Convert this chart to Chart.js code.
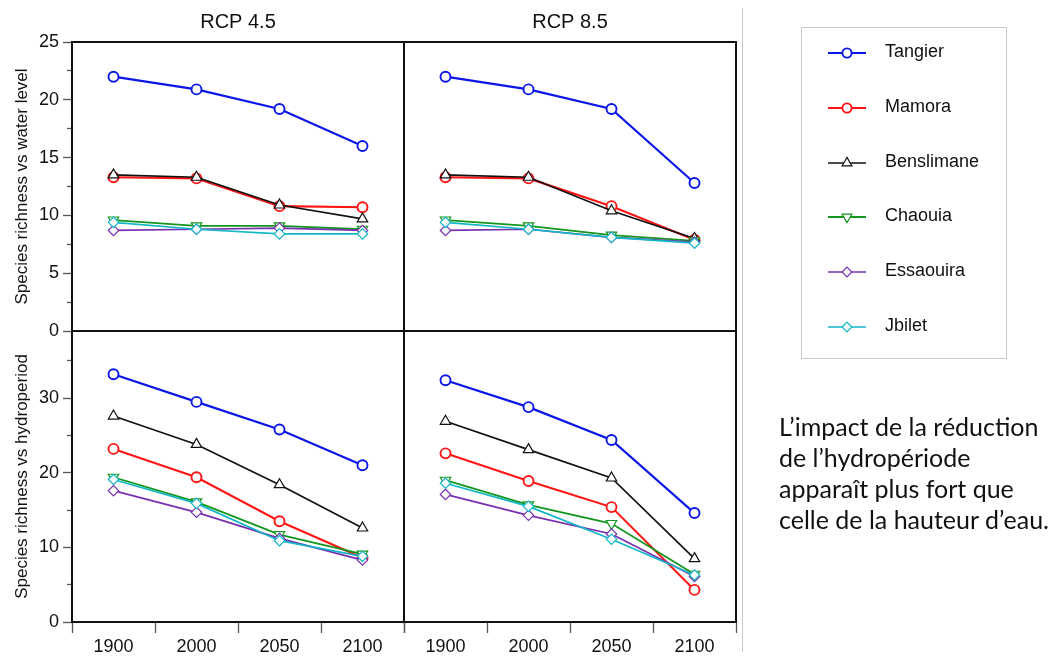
<!DOCTYPE html>
<html>
<head>
<meta charset="utf-8">
<title>Species richness</title>
<script src="https://cdn.jsdelivr.net/npm/chart.js@4.4.1/dist/chart.umd.min.js"></script>
<style>
  body { margin: 0; background: #fff; }
  #wrap { position: relative; width: 1057px; height: 657px; overflow: hidden; background: #fff; }
  #wrap canvas.panel { position: absolute; left: 0; top: 0; }
  #divider { position: absolute; left: 742px; top: 8px; width: 1px; height: 644px; background: #c8c8c8; }
  #legend { position: absolute; left: 801px; top: 27px; width: 206px; height: 332px;
            border: 1px solid #c8c8c8; box-sizing: border-box; }
  .legend-row { position: absolute; left: 0; height: 24px; width: 200px; }
  .legend-row canvas { position: absolute; left: 24px; top: 0; }
  .legend-row span { position: absolute; left: 83px; top: 0; line-height: 24px;
                     font: 18px "Liberation Sans", Arial, sans-serif; color: #111; white-space: nowrap; }
  #note { position: absolute; left: 779px; top: 411px; font: 25px Lato, "Open Sans", sans-serif;
          line-height: 31px; color: #111; white-space: nowrap; }
</style>
</head>
<body>
<div id="wrap">
  <canvas class="panel" id="tl" width="1057" height="657"></canvas>
  <canvas class="panel" id="tr" width="1057" height="657"></canvas>
  <canvas class="panel" id="bl" width="1057" height="657"></canvas>
  <canvas class="panel" id="br" width="1057" height="657"></canvas>
  <div id="divider"></div>
  <div id="legend"></div>
  <div id="note">L’impact de la réduction<br>de l’hydropériode<br>apparaît plus fort que<br>celle de la hauteur d’eau.</div>
</div>
<script>
// --- data ---
const years = ['1900', '2000', '2050', '2100'];
const sites = ['Tangier', 'Mamora', 'Benslimane', 'Chaouia', 'Essaouira', 'Jbilet'];

// species richness vs water level (rows follow `sites`)
const waterRcp45 = [
  [22.0, 20.9, 19.2, 16.0],
  [13.3, 13.2, 10.8, 10.7],
  [13.5, 13.3, 10.9, 9.7],
  [9.6, 9.1, 9.1, 8.8],
  [8.7, 8.8, 8.9, 8.7],
  [9.4, 8.8, 8.4, 8.4]
];
const waterRcp85 = [
  [22.0, 20.9, 19.2, 12.8],
  [13.3, 13.2, 10.8, 7.9],
  [13.5, 13.3, 10.4, 8.0],
  [9.6, 9.1, 8.3, 7.8],
  [8.7, 8.8, 8.1, 7.7],
  [9.4, 8.8, 8.1, 7.6]
];

// species richness vs hydroperiod
const hydroRcp45 = [
  [33.2, 29.5, 25.8, 21.0],
  [23.2, 19.4, 13.5, 8.6],
  [27.6, 23.8, 18.4, 12.6],
  [19.4, 16.1, 11.7, 9.1],
  [17.6, 14.7, 11.2, 8.3],
  [19.1, 15.9, 10.9, 8.8]
];
const hydroRcp85 = [
  [32.4, 28.8, 24.4, 14.6],
  [22.6, 18.9, 15.4, 4.3],
  [26.9, 23.1, 19.3, 8.5],
  [19.0, 15.7, 13.2, 6.4],
  [17.1, 14.3, 11.8, 6.1],
  [18.6, 15.5, 11.1, 6.3]
];

const waterTicks = [0, 5, 10, 15, 20, 25];
const hydroTicks = [0, 10, 20, 30];
const waterMax = 25;
const hydroMax = 39;

// --- styling ---
const siteColors = ['#0b16e8', '#ff1414', '#111111', '#13961d', '#7630b0', '#12b6c6'];
const siteMarkers = ['circle', 'circle', 'triangle', 'triangle', 'rectRot', 'rectRot'];
const markerRotations = [0, 0, 0, 180, 0, 0];
const markerSizes = [5, 5, 6, 6, 5.2, 5.2];
const markerBorders = [1.9, 1.9, 1.2, 1.2, 1.2, 1.2];
const lineWidths = [2.2, 2.1, 1.7, 1.8, 1.7, 1.7];

Chart.defaults.font.family = "'Liberation Sans', Arial, sans-serif";
Chart.defaults.color = '#111';

// Frame around each panel
const framePlugin = {
  id: 'frame',
  afterDraw(chart) {
    const { ctx, chartArea: a } = chart;
    ctx.save();
    ctx.strokeStyle = '#111';
    ctx.lineWidth = 2;
    ctx.strokeRect(a.left, a.top, a.right - a.left, a.bottom - a.top);
    ctx.restore();
  }
};

// majors plus a minor tick half-way to the next major
function tickValues(majors, max) {
  const step = majors[1] - majors[0];
  const out = [];
  majors.forEach(m => {
    out.push(m);
    if (m + step / 2 <= max) out.push(m + step / 2);
  });
  return out;
}

function makeDatasets(rows) {
  return rows.map((vals, i) => ({
    label: sites[i],
    data: vals,
    borderColor: siteColors[i],
    backgroundColor: '#fff',
    borderWidth: lineWidths[i],
    pointStyle: siteMarkers[i],
    pointRotation: markerRotations[i],
    pointRadius: markerSizes[i],
    pointBorderWidth: markerBorders[i],
    pointBorderColor: siteColors[i],
    pointBackgroundColor: '#fff',
    tension: 0,
    order: sites.length - i
  }));
}

function makePanel(id, cfg) {
  const majors = cfg.yTicks;
  const ticks = tickValues(majors, cfg.yMax);
  const isMajor = c => !c.tick || majors.includes(c.tick.value);

  return new Chart(document.getElementById(id), {
    type: 'line',
    data: { labels: years, datasets: makeDatasets(cfg.rows) },
    plugins: [framePlugin],
    options: {
      responsive: false,
      animation: false,
      events: [],
      layout: { padding: cfg.pad },
      plugins: {
        legend: { display: false },
        tooltip: { enabled: false },
        title: {
          display: !!cfg.title,
          text: cfg.title,
          fullSize: false,
          font: { size: 20, weight: 'normal', lineHeight: 1.2 },
          padding: { top: 10, bottom: 8 },
          color: '#111'
        }
      },
      scales: {
        x: {
          type: 'category',
          offset: true,
          display: cfg.showX,
          border: { display: false },
          grid: { offset: true, drawOnChartArea: false, tickLength: 11, tickColor: '#555', tickWidth: 1.3 },
          ticks: { padding: 3, font: { size: 18 }, maxRotation: 0, autoSkip: false },
          afterFit: s => { s.height = cfg.showX ? 35 : 0; }
        },
        y: {
          min: 0,
          max: cfg.yMax,
          display: cfg.showY,
          border: { display: false },
          afterBuildTicks: s => { s.ticks = ticks.map(v => ({ value: v })); },
          ticks: {
            padding: 4,
            font: { size: 18 },
            callback: v => (majors.includes(v) ? v : '')
          },
          grid: {
            drawOnChartArea: false,
            tickLength: 9,
            tickColor: '#555',
            tickWidth: 1.3,
            tickBorderDash: c => (isMajor(c) ? [] : [5, 4]),
            tickBorderDashOffset: c => (isMajor(c) ? 0 : 5)
          },
          title: {
            display: !!cfg.yTitle,
            text: cfg.yTitle,
            font: { size: 17 },
            padding: { top: 12, bottom: 0 },
            color: '#111'
          },
          afterFit: s => { s.width = cfg.showY ? 72 : 0; }
        }
      }
    }
  });
}

function buildLegend() {
  const box = document.getElementById('legend');
  sites.forEach((name, i) => {
    const row = document.createElement('div');
    row.className = 'legend-row';
    row.style.top = (13.3 + i * 54.7) + 'px';

    const c = document.createElement('canvas');
    c.width = 50;
    c.height = 24;
    const ctx = c.getContext('2d');
    ctx.strokeStyle = siteColors[i];
    ctx.lineWidth = lineWidths[i];
    ctx.beginPath();
    ctx.moveTo(2, 12);
    ctx.lineTo(40, 12);
    ctx.stroke();
    ctx.fillStyle = '#fff';
    ctx.lineWidth = markerBorders[i];
    Chart.helpers.drawPoint(ctx, {
      pointStyle: siteMarkers[i],
      rotation: markerRotations[i],
      radius: markerSizes[i] - 0.4,
      borderWidth: markerBorders[i]
    }, 21, 12);

    const label = document.createElement('span');
    label.textContent = name;
    row.appendChild(c);
    row.appendChild(label);
    box.appendChild(row);
  });
}

makePanel('tl', {
  rows: waterRcp45, title: 'RCP 4.5', yTicks: waterTicks, yMax: waterMax,
  yTitle: 'Species richness vs water level', showX: false, showY: true,
  pad: { left: 0, top: 0, right: 653, bottom: 326 }
});
makePanel('tr', {
  rows: waterRcp85, title: 'RCP 8.5', yTicks: waterTicks, yMax: waterMax,
  yTitle: '', showX: false, showY: false,
  pad: { left: 404, top: 0, right: 321, bottom: 326 }
});
makePanel('bl', {
  rows: hydroRcp45, title: '', yTicks: hydroTicks, yMax: hydroMax,
  yTitle: 'Species richness vs hydroperiod', showX: true, showY: true,
  pad: { left: 0, top: 331, right: 653, bottom: 0 }
});
makePanel('br', {
  rows: hydroRcp85, title: '', yTicks: hydroTicks, yMax: hydroMax,
  yTitle: '', showX: true, showY: false,
  pad: { left: 404, top: 331, right: 321, bottom: 0 }
});
buildLegend();
</script>
</body>
</html>
